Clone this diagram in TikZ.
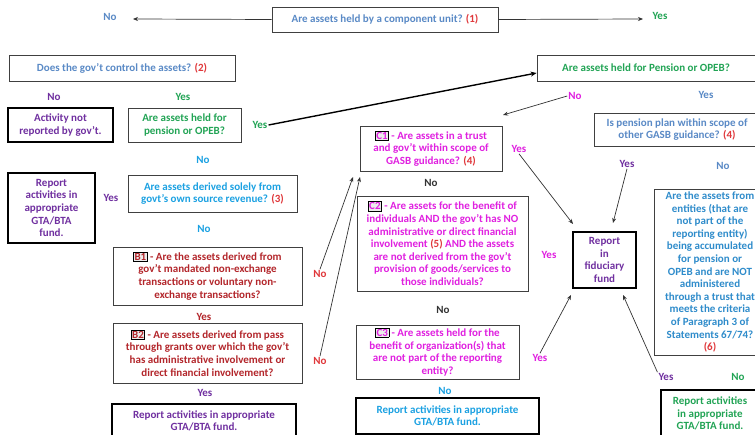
\documentclass[tikz,border=0pt]{standalone}
\usepackage{fontspec}
\setmainfont{Carlito}
\usetikzlibrary{arrows.meta,calc}
\definecolor{steel}{HTML}{5A8AC6}
\definecolor{grn}{HTML}{22A455}
\definecolor{purp}{HTML}{7030A0}
\definecolor{mag}{HTML}{E020E0}
\definecolor{redn}{HTML}{E0383B}
\definecolor{dred}{HTML}{B3262B}
\definecolor{cyanb}{HTML}{1BA1E2}
\definecolor{rblue}{HTML}{2F8CCB}
\definecolor{dgray}{HTML}{333333}
\definecolor{boxgray}{HTML}{404040}
\definecolor{tagbg}{HTML}{ECECEC}
\newcommand{\tagbox}[1]{{\setlength{\fboxsep}{0.6pt}\setlength{\fboxrule}{0.6pt}\fcolorbox{black}{tagbg}{#1}}}
\newcommand{\num}[1]{\textcolor{redn}{#1}}
\newcommand{\lblfont}{\bfseries\fontsize{11}{12.6}\selectfont}
\tikzset{
  qbox/.style={draw=boxgray, line width=0.8pt, align=center, inner sep=1pt, font=\lblfont},
  tbox/.style={draw=black, line width=1.8pt, align=center, inner sep=1pt, font=\lblfont},
  lab/.style={inner sep=1pt, font=\lblfont},
  arr/.style={draw=dgray, line width=0.7pt, -{Stealth[length=5pt,width=4pt]}},
  thickarr/.style={draw=black, line width=1.4pt, -{Stealth[length=6pt,width=5pt]}}
}
\begin{document}
\begin{tikzpicture}[x=1pt,y=-1pt]
\useasboundingbox[fill=white] (0,0) rectangle (755,435);
% top question
\node[qbox, text=steel, minimum width=226, minimum height=25] (q1) at (385,19.5) {Are assets held by a component unit? \num{(1)}};
\node[lab, text=steel] (q1no) at (110,17) {No};
\node[lab, text=grn] (q1yes) at (660,16) {Yes};
\coordinate (q1noend) at (133,19);
\coordinate (q1yesend) at (643,19);
\draw[arr] (q1.west) -- (q1noend);
\draw[arr] (q1.east) -- (q1yesend);
% left branch
\node[qbox, text=steel, minimum width=226, minimum height=26] (q2) at (122,68) {Does the gov’t control the assets? \num{(2)}};
\node[lab, text=purp] (q2no) at (54,97) {No};
\node[lab, text=grn] (q2yes) at (183,97) {Yes};
\node[tbox, text=purp, minimum width=105, minimum height=34] (notrep) at (60.5,125) {Activity not\\reported by gov’t.};
\node[qbox, text=grn, minimum width=113, minimum height=34] (q2p) at (184.5,125) {Are assets held for\\pension or OPEB?};
\node[lab, text=grn] (q2pyes) at (260,125) {Yes};
\node[lab, text=cyanb] (q2pno) at (203,160) {No};
\node[tbox, text=purp, minimum width=87, minimum height=70] (gta1) at (51.5,208) {Report\\activities in\\appropriate\\GTA/BTA\\fund.};
\node[lab, text=purp] (q3yes) at (111,198) {Yes};
\node[qbox, text=cyanb, minimum width=169, minimum height=37] (q3) at (212.5,193.5) {Are assets derived solely from\\govt’s own source revenue? \num{(3)}};
\node[lab, text=cyanb] (q3no) at (204,229) {No};
\node[qbox, text=dred, minimum width=189, minimum height=58] (b1) at (207.5,276) {\tagbox{B1} - Are the assets derived from\\gov’t mandated non-exchange\\transactions or voluntary non-\\exchange transactions?};
\node[lab, text=dred] (b1yes) at (204,317) {Yes};
\node[lab, text=redn] (b1no) at (320,274) {No};
\node[qbox, text=dred, minimum width=189, minimum height=60] (b2) at (207.5,353) {\tagbox{B2} - Are assets derived from pass\\through grants over which the gov’t\\has administrative involvement or\\direct financial involvement?};
\node[lab, text=purp] (b2yes) at (205,393) {Yes};
\node[lab, text=redn] (b2no) at (320,361) {No};
\node[tbox, text=purp, minimum width=184, minimum height=34, anchor=north] (gta2) at (204,403) {Report activities in appropriate\\GTA/BTA fund.};
% pension branch
\node[qbox, text=grn, minimum width=218, minimum height=26] (pen) at (646,68) {Are assets held for Pension or OPEB?};
\node[lab, text=mag] (penno) at (575,96) {No};
\node[lab, text=steel] (penyes) at (706,95) {Yes};
\draw[thickarr] (q2pyes.east) -- ($(pen.west)+(0,5)$);
\coordinate (pennoend) at (503,115);
\draw[arr] (penno.west) -- (pennoend);
% C column
\node[qbox, text=mag, minimum width=142, minimum height=45] (c1) at (431,148.5) {\tagbox{C1} - Are assets in a trust\\and gov’t within scope of\\GASB guidance? \num{(4)}};
\node[lab, text=dgray] (c1no) at (431,183) {No};
\node[lab, text=mag] (c1yes) at (519,149) {Yes};
\node[qbox, text=mag, minimum width=171, minimum height=95] (c2) at (442.5,243.5) {\tagbox{C2} - Are assets for the benefit of\\individuals AND the gov’t has NO\\administrative or direct financial\\involvement \num{(5)} AND the assets\\are not derived from the gov’t\\provision of goods/services to\\those individuals?};
\node[lab, text=dgray] (c2no) at (443,310) {No};
\node[lab, text=mag] (c2yes) at (549,255) {Yes};
\node[qbox, text=mag, minimum width=163, minimum height=54] (c3) at (437.5,352) {\tagbox{C3} - Are assets held for the\\benefit of organization(s) that\\are not part of the reporting\\entity?};
\node[lab, text=cyanb] (c3no) at (445,391) {No};
\node[lab, text=mag] (c3yes) at (540,358) {Yes};
\node[tbox, text=cyanb, minimum width=183, minimum height=36] (gta3) at (447.5,416) {Report activities in appropriate\\GTA/BTA fund.};
% fiduciary
\node[tbox, text=purp, minimum width=63, minimum height=56] (fid) at (604.5,260) {Report\\in\\fiduciary\\fund};
% right column
\node[qbox, text=steel, minimum width=166, minimum height=33] (q4) at (677,129.5) {Is pension plan within scope of\\other GASB guidance? \num{(4)}};
\node[lab, text=purp] (q4yes) at (627,164) {Yes};
\node[lab, text=steel] (q4no) at (723,166) {No};
\node[qbox, minimum width=112, minimum height=166] (q6) at (710,272) {};
\node[lab, text=rblue, align=center] (q6t) at (q6.center) {Are the assets from\\entities (that are\\not part of the\\reporting entity)\\being accumulated\\for pension or\\OPEB and are NOT\\administered\\through a trust that\\meets the criteria\\of Paragraph 3 of\\Statements 67/74?\\\num{(6)}};
\node[lab, text=purp] (q6yes) at (666,377) {Yes};
\node[lab, text=grn] (q6no) at (738,377) {No};
\node[tbox, text=grn, minimum width=98, minimum height=47, anchor=north] (gta4) at (710,389) {Report activities\\in appropriate\\GTA/BTA fund.};
% arrows to fiduciary and C1
\coordinate (fa) at (573,224);
\coordinate (fb) at (613,223);
\coordinate (fc) at (571,295);
\coordinate (fd) at (623,295);
\coordinate (ca) at (353,177);
\coordinate (cb) at (360,177);
\draw[arr] (c1yes.south) -- (fa);
\draw[arr] (q4yes.south) -- (fb);
\draw[arr] (c3yes.north) -- (fc);
\draw[arr] (q6yes.north west) -- (fd);
\draw[arr] (b1no.north) -- (ca);
\draw[arr] (b2no.north) -- (cb);
\end{tikzpicture}
\end{document}
